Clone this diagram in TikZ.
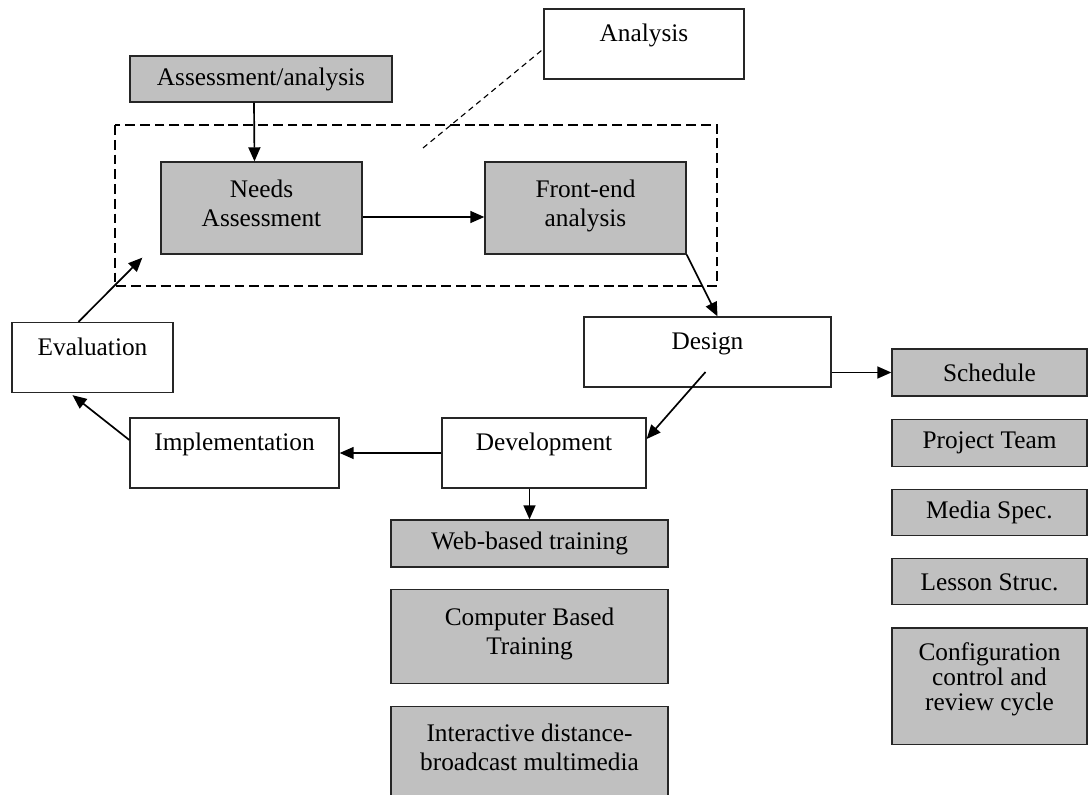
\documentclass[tikz,border=0pt]{standalone}
\usepackage{fontspec}
\setmainfont{Liberation Serif}
\usepackage{tikz}
\usetikzlibrary{arrows.meta,positioning,calc}
\definecolor{BoxGray}{HTML}{C0C0C0}
\definecolor{EdgeGray}{HTML}{262626}
% lifts multi-line text a little inside its box
\newcommand{\liftby}[1]{\rule[-#1]{0pt}{#1}}

\begin{document}
\begin{tikzpicture}[x=0.025cm,y=-0.025cm,
    every node/.style={font=\fontsize{18}{20.6}\selectfont},
    stage/.style={draw=EdgeGray,fill=white,line width=0.9pt,inner sep=0pt,
                  text height=0.82cm,text depth=0.93cm},
    task/.style={draw=EdgeGray,fill=BoxGray,line width=0.9pt,inner sep=0pt,align=center},
    flow/.style={-{Triangle[length=10pt,width=8.5pt]},line width=1.2pt},
    node distance=0.55cm]
  \useasboundingbox (0,0) rectangle (1088,795);
  \clip (0,0) rectangle (1088,795);

  % Analysis phase
  \node[stage,minimum width=5cm] (analysis) at (644,44) {Analysis};
  \node[task,minimum width=6.55cm,minimum height=1.15cm] (assess) at (261,79) {Assessment/analysis};
  \node[task,minimum width=5.025cm,minimum height=2.3cm] (needs) at (261.5,208) {Needs\\Assessment\liftby{7pt}};
  \node[task,minimum width=5.025cm,minimum height=2.3cm] (frontend) at (585.5,208) {Front-end\\analysis\liftby{7pt}};
  \draw[line width=0.8pt,dash pattern=on 7pt off 3.5pt] (115,125) rectangle (717,286);
  \coordinate (callout) at (423,148);
  \draw[line width=0.8pt,dash pattern=on 4pt off 3pt] (callout) -- ($(analysis.west)+(0,5)$);

  % Cycle
  \node[stage,minimum width=6.175cm] (design) at (707.5,352) {Design};
  \node[stage,minimum width=5.1cm] (development) at (544,453) {Development};
  \node[stage,minimum width=5.225cm] (implementation) at (234.5,453) {Implementation};
  \node[stage,minimum width=4.025cm] (evaluation) at (92.5,357.5) {Evaluation};

  % Design outputs
  \node[task,minimum width=4.875cm,minimum height=1.175cm] (schedule) at (989.5,372.5) {Schedule};
  \node[task,minimum width=4.875cm,minimum height=1.175cm,below=of schedule] (team) {Project Team};
  \node[task,minimum width=4.875cm,minimum height=1.15cm,below=of team] (media) {Media Spec.};
  \node[task,minimum width=4.875cm,minimum height=1.15cm,below=of media] (lesson) {Lesson Struc.};
  \node[task,minimum width=4.875cm,minimum height=2.9cm,below=of lesson,
        font=\fontsize{18}{17.8}\selectfont] (config) {Configuration\\control and\\review cycle\liftby{14pt}};

  % Development media
  \node[task,minimum width=6.925cm,minimum height=1.175cm] (webbased) at (529.5,543.5) {Web-based training};
  \node[task,minimum width=6.925cm,minimum height=2.35cm,below=0.53cm of webbased] (computer) {Computer Based\\Training\liftby{8pt}};
  \node[task,minimum width=6.925cm,minimum height=2.35cm,below=0.55cm of computer] (interactive) {Interactive distance-\\broadcast multimedia\liftby{10pt}};

  % Connectors
  \draw[flow] ($(assess.south)+(-7,0)$) -- ($(needs.north)+(-7,0)$);
  \draw[flow] ($(needs.east)+(0,9)$) -- ($(frontend.west)+(0,9)$);
  \draw[flow] (frontend.south east) -- ($(design.north)+(10,0)$);
  \draw[flow] ($(design.center)+(-2,20)$) -- ($(development.east)+(0,-14)$);
  \draw[flow] (design.east |- schedule.west) -- (schedule.west);
  \draw[flow] (development.west) -- (implementation.east);
  \draw[flow] ($(implementation.west)+(0,-13)$) -- ($(evaluation.south)+(-20,2)$);
  \coordinate (reentry) at ($(needs.south west)+(-18,3)$);
  \draw[flow] ($(evaluation.north)+(-14,0)$) -- (reentry);
  \draw[flow] (webbased.north |- development.south) -- (webbased.north);
\end{tikzpicture}
\end{document}
